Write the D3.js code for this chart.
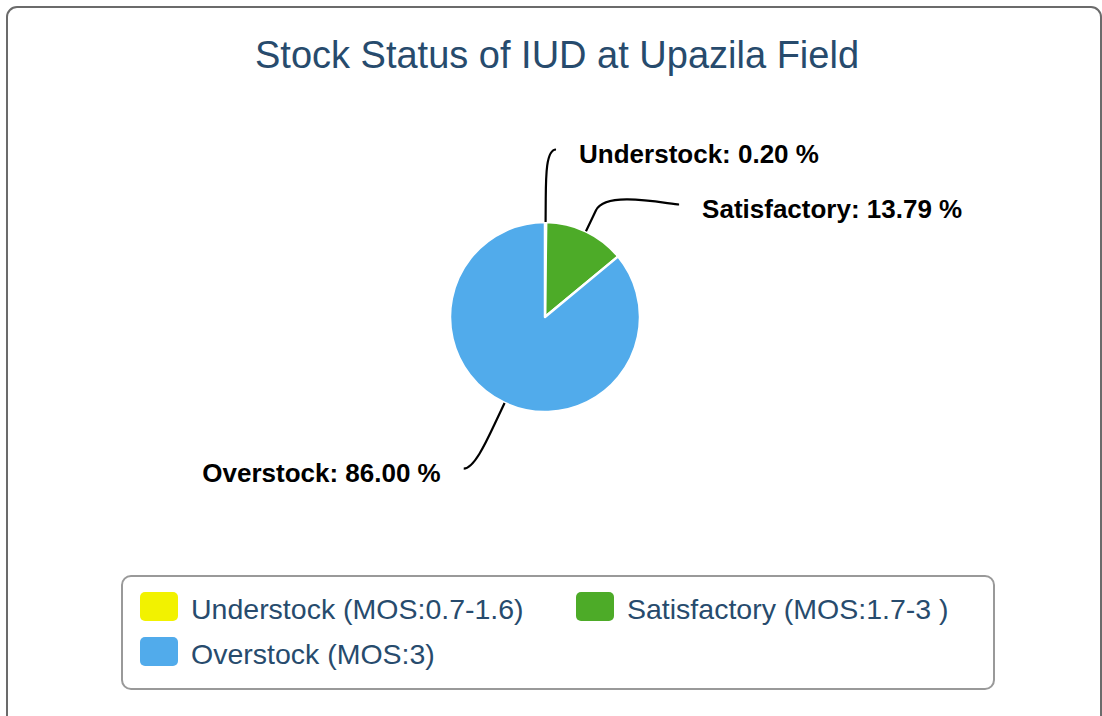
<!DOCTYPE html>
<html>
<head>
<meta charset="utf-8">
<script src="https://cdn.jsdelivr.net/npm/d3@7"></script>
<style>
  body { margin: 0; background: #fff; }
  svg { display: block; font-family: "Liberation Sans", Arial, Helvetica, sans-serif; }
</style>
</head>
<body>
<div id="chart"></div>
<script>
// data
var categories = ["Understock", "Satisfactory", "Overstock"];
var values = [0.20, 13.79, 86.00];
var legendLabels = ["Understock (MOS:0.7-1.6)", "Satisfactory (MOS:1.7-3 )", "Overstock (MOS:3)"];
var colors = ["#f2f200", "#4dab28", "#51abeb"];
var title = "Stock Status of IUD at Upazila Field";

var width = 1102, height = 716;

// pie geometry
var cx = 545, cy = 317, radius = 95,
    labelRadius = 167.5, // where the labels sit
    breakOut = 23,       // straight part of the connector, outside the pie
    connPad = 10,
    textPad = 23,
    labelGap = 55;       // min vertical distance between labels on one side

var svg = d3.select("#chart").append("svg")
    .attr("width", width)
    .attr("height", height);

// chart border
svg.append("rect")
    .attr("x", 7)
    .attr("y", 7)
    .attr("width", 1094)
    .attr("height", 730)
    .attr("rx", 10)
    .attr("fill", "#fff")
    .attr("stroke", "#6b6b6b")
    .attr("stroke-width", 2);

svg.append("text")
    .attr("x", 557)
    .attr("y", 68)
    .attr("text-anchor", "middle")
    .style("font-size", "38px")
    .style("fill", "#274b6d")
    .text(title);

var pie = d3.pie().sort(null).value(function(d) { return d; });
var arcs = pie(values);

var arc = d3.arc().innerRadius(0).outerRadius(radius);

var g = svg.append("g")
    .attr("transform", "translate(" + cx + "," + cy + ")");

g.selectAll("path.slice")
    .data(arcs)
    .enter()
    .append("path")
    .attr("class", "slice")
    .attr("d", arc)
    .attr("fill", function(d, i) { return colors[i]; })
    .attr("stroke", "#fff")
    .attr("stroke-width", 2.5)
    .attr("stroke-linejoin", "round");

// label layout, a bit like the highcharts one
var labels = arcs.map(function(d, i) {
    var a = (d.startAngle + d.endAngle) / 2;
    return {
        i: i,
        a: a,
        side: a < Math.PI ? 1 : -1,
        y: cy - labelRadius * Math.cos(a)
    };
});

[1, -1].forEach(function(side) {
    var list = labels.filter(function(l) { return l.side == side; })
        .sort(function(a, b) { return a.y - b.y; });
    for (var k = 1; k < list.length; k++) {
        if (list[k].y < list[k - 1].y + labelGap) list[k].y = list[k - 1].y + labelGap;
    }
});

labels.forEach(function(l) {
    var dy = l.y - cy;
    var gx = cx + l.side * Math.sqrt(Math.max(0, labelRadius * labelRadius - dy * dy));
    var sx = Math.sin(l.a), sy = -Math.cos(l.a);
    var p = [cx + radius * sx, cy + radius * sy],
        b = [cx + (radius + breakOut) * sx, cy + (radius + breakOut) * sy],
        e = [gx + l.side * connPad, l.y];

    var path = d3.path();
    path.moveTo(e[0], e[1]);
    path.bezierCurveTo(gx, l.y, 2 * b[0] - p[0], 2 * b[1] - p[1], b[0], b[1]);
    path.lineTo(p[0], p[1]);

    svg.append("path")
        .attr("d", path.toString())
        .attr("fill", "none")
        .attr("stroke", "#000")
        .attr("stroke-width", 2.2);

    svg.append("text")
        .attr("x", e[0] + l.side * textPad)
        .attr("y", l.y + 13)
        .attr("text-anchor", l.side == 1 ? "start" : "end")
        .style("font-size", "26px")
        .style("font-weight", "bold")
        .style("fill", "#000")
        .text(categories[l.i] + ": " + d3.format(".2f")(values[l.i]) + " %");
});

// legend
var legend = svg.append("g");

legend.append("rect")
    .attr("x", 122)
    .attr("y", 576)
    .attr("width", 872)
    .attr("height", 113)
    .attr("rx", 9)
    .attr("fill", "none")
    .attr("stroke", "#999")
    .attr("stroke-width", 2);

var colX = [140, 576], rowY = [592, 637];

var item = legend.selectAll("g.item")
    .data(legendLabels)
    .enter()
    .append("g")
    .attr("class", "item")
    .attr("transform", function(d, i) {
        return "translate(" + colX[i % 2] + "," + rowY[Math.floor(i / 2)] + ")";
    });

item.append("rect")
    .attr("width", 38)
    .attr("height", 29)
    .attr("rx", 5)
    .attr("fill", function(d, i) { return colors[i]; });

item.append("text")
    .attr("x", 51)
    .attr("y", 27)
    .style("font-size", "28.5px")
    .style("fill", "#274b6d")
    .text(function(d) { return d; });
</script>
</body>
</html>
